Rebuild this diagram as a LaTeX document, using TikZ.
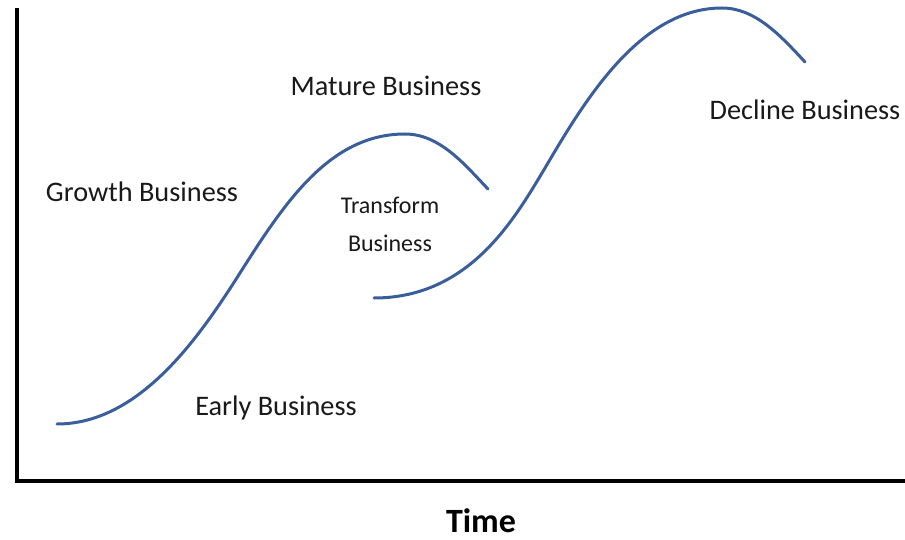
\documentclass[tikz,border=0pt]{standalone}
\usepackage{fontspec}
\setmainfont{Carlito}
\definecolor{curveblue}{HTML}{3A5E9C}
\begin{document}
\begin{tikzpicture}[x=1pt,y=-1pt,
  axis/.style={line width=3.5pt,black},
  scurve/.style={line width=3pt,curveblue,line cap=round},
  lbl/.style={inner sep=0pt,font=\fontsize{28.3}{33}\selectfont,text=black!90},
  slbl/.style={inner sep=0pt,font=\fontsize{24}{28}\selectfont,text=black!90}]
\useasboundingbox (0,0) rectangle (905,540);
% axes
\coordinate (ytop) at (17,8);
\coordinate (orig) at (17,481);
\coordinate (xend) at (905,481);
\draw[axis] (ytop) -- (orig) -- (xend);
% first S-curve
\coordinate (a0) at (57,424);
\coordinate (a1) at (240,273);
\coordinate (a2) at (405,134);
\coordinate (a3) at (488,189);
\draw[scurve] (a0) .. controls (140,424) and (200,336) .. (a1)
  .. controls (285,202) and (330,134) .. (a2)
  .. controls (440,134) and (465,165) .. (a3);
% second S-curve
\coordinate (b0) at (374,298);
\coordinate (b1) at (545,168);
\coordinate (b2) at (722,8);
\coordinate (b3) at (805,62);
\draw[scurve] (b0) .. controls (470,298) and (515,218) .. (b1)
  .. controls (585,100) and (640,8) .. (b2)
  .. controls (755,8) and (780,35) .. (b3);
% labels
\node[lbl] (mature) at (386,86) {Mature Business};
\node[lbl] (growth) at (142,192) {Growth Business};
\node[slbl] (transform1) at (390,205) {Transform};
\node[slbl] (transform2) at (390,243) {Business};
\node[lbl] (early) at (276,408) {Early Business};
\node[lbl] (decline) at (805,110) {Decline Business};
\node[inner sep=0pt,font=\fontsize{34}{38}\selectfont\bfseries] (time) at (481,521) {Time};
\end{tikzpicture}
\end{document}
